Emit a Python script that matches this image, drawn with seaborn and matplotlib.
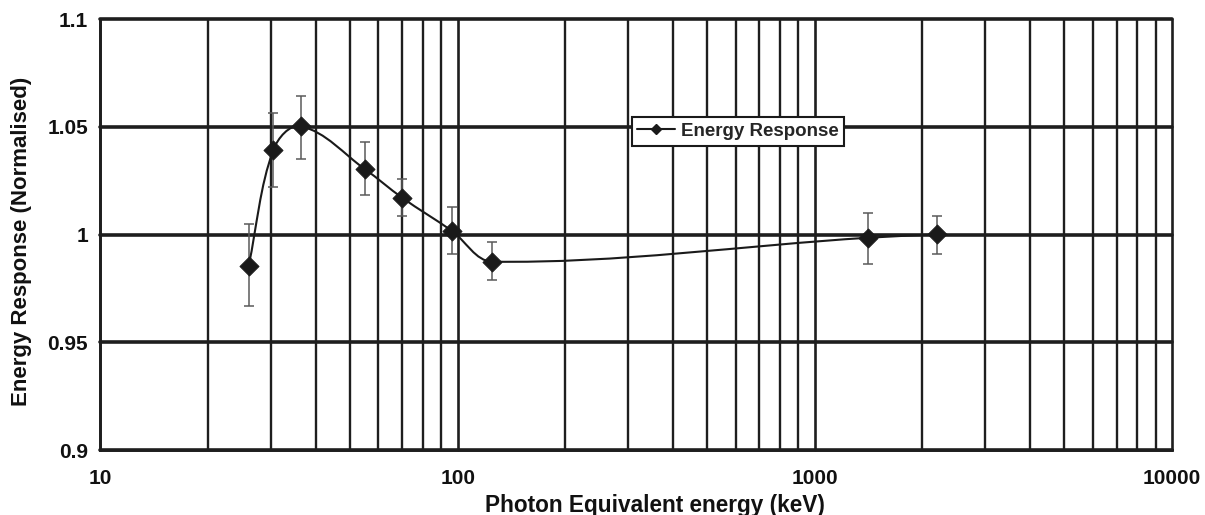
import numpy as np
import pandas as pd
import matplotlib
matplotlib.use("Agg")
import matplotlib.pyplot as plt
from matplotlib.path import Path
from matplotlib.patches import PathPatch
from matplotlib.lines import Line2D
from matplotlib.ticker import FixedLocator, NullFormatter, FixedFormatter
import seaborn as sns

# ---- data ----
energy_kev = [26.0, 30.5, 36.4, 55.0, 70.0, 96.5, 125.0, 1410.0, 2200.0]
response = [0.9856, 1.0394, 1.0502, 1.0303, 1.0170, 1.0016, 0.9874, 0.9985, 1.0001]
err_upper = [1.0049, 1.0564, 1.0643, 1.0427, 1.0256, 1.0129, 0.9964, 1.0098, 1.0087]
err_lower = [0.9669, 1.0221, 1.0351, 1.0183, 1.0086, 0.9910, 0.9788, 0.9863, 0.9911]
series_name = "Energy Response"
y_ticks = [0.9, 0.95, 1.0, 1.05, 1.1]
y_tick_labels = ["0.9", "0.95", "1", "1.05", "1.1"]
x_ticks = [10, 100, 1000, 10000]
x_tick_labels = ["10", "100", "1000", "10000"]

df = pd.DataFrame({"energy": energy_kev, "response": response,
                   "hi": err_upper, "lo": err_lower})

sns.set_style("white")
plt.rcParams["font.family"] = ["Liberation Sans", "DejaVu Sans"]
plt.rcParams["font.weight"] = "bold"

fig = plt.figure(figsize=(12.05, 5.15), dpi=100)
ax = fig.add_axes([0.0834, 0.1262, 0.8892, 0.8369])
ax.set_xscale("log")
ax.set_xlim(10, 10000)
ax.set_ylim(0.9, 1.1)

gc = "#1e1e1e"
# grid
minor = [m * 10 ** d for d in range(1, 4) for m in range(2, 10)]
for v in minor:
    ax.axvline(v, color=gc, lw=1.7, zorder=1)
for v in x_ticks:
    ax.axvline(v, color=gc, lw=1.9, zorder=1, clip_on=False)
for v in y_ticks:
    ax.axhline(v, color=gc, lw=2.6, zorder=1, clip_on=False)

for s in ["top", "right"]:
    ax.spines[s].set_visible(False)
for s in ["left", "bottom"]:
    ax.spines[s].set_color(gc)
    ax.spines[s].set_linewidth(2.0)

# error bars
ax.errorbar(df["energy"], df["response"],
            yerr=[df["response"] - df["lo"], df["hi"] - df["response"]],
            fmt="none", ecolor="#5a5a5a", elinewidth=1.1, capsize=3.5,
            capthick=1.1, zorder=3)

# smoothed line: Bezier through the points, tangents in screen-like space
SX, SY = 357.0, 2160.0  # pixel scale (per decade, per unit)
P = np.column_stack([np.log10(np.array(energy_kev)) * SX,
                     np.array(response) * SY])
n = len(P)
tang = []
for i in range(n):
    a = P[i - 1] if i > 0 else P[i]
    b = P[i + 1] if i < n - 1 else P[i]
    d = b - a
    tang.append(d / np.hypot(*d))
verts = [P[0]]
codes = [Path.MOVETO]
for i in range(n - 1):
    L = np.hypot(*(P[i + 1] - P[i]))
    c1 = P[i] + tang[i] * L * 0.33
    c2 = P[i + 1] - tang[i + 1] * L * 0.33
    verts += [c1, c2, P[i + 1]]
    codes += [Path.CURVE4] * 3
verts = np.array(verts)
verts = np.column_stack([10 ** (verts[:, 0] / SX), verts[:, 1] / SY])
patch = PathPatch(Path(verts, codes), facecolor="none", edgecolor="#1a1a1a",
                  lw=1.5, transform=ax.transData, zorder=4)
ax.add_patch(patch)

# markers via seaborn
sns.scatterplot(data=df, x="energy", y="response", ax=ax, marker="D", s=95,
                color="#1a1a1a", edgecolor="#1a1a1a", linewidth=0.6, zorder=5,
                legend=False)

# ticks
ax.xaxis.set_major_locator(FixedLocator(x_ticks))
ax.xaxis.set_major_formatter(FixedFormatter(x_tick_labels))
ax.xaxis.set_minor_locator(FixedLocator([]))
ax.xaxis.set_minor_formatter(NullFormatter())
ax.yaxis.set_major_locator(FixedLocator(y_ticks))
ax.yaxis.set_major_formatter(FixedFormatter(y_tick_labels))
ax.tick_params(axis="both", which="major", direction="out", length=5,
               width=2.0, color=gc, labelsize=15, labelcolor="#111111")
ax.tick_params(axis="x", pad=9)
ax.tick_params(axis="y", pad=4)
for lab in ax.get_xticklabels() + ax.get_yticklabels():
    lab.set_fontweight("bold")

ax.set_xlabel("Photon Equivalent energy (keV)", fontsize=16.3,
              fontweight="bold", color="#111111")
ax.xaxis.set_label_coords(0.517, -0.103)
ax.xaxis.label.set_va("top")
ax.set_ylabel("Energy Response (Normalised)", fontsize=16,
              fontweight="bold", color="#111111")
ax.yaxis.set_label_coords(-0.0738, 0.485)
ax.yaxis.label.set_va("center")

handle = Line2D([], [], color="#1a1a1a", lw=1.5, marker="D", markersize=5.5)
leg = ax.legend([handle], [series_name], loc="center",
                bbox_to_anchor=(0.5948, 0.739), frameon=True, fancybox=False,
                framealpha=1, edgecolor="#1a1a1a",
                handlelength=2.0, handletextpad=0.3, borderpad=0.3,
                prop={"weight": "bold", "size": 13.5})
leg.get_frame().set_linewidth(1.5)
leg.set_zorder(10)

fig.savefig("out.png", dpi=100, facecolor="white")
